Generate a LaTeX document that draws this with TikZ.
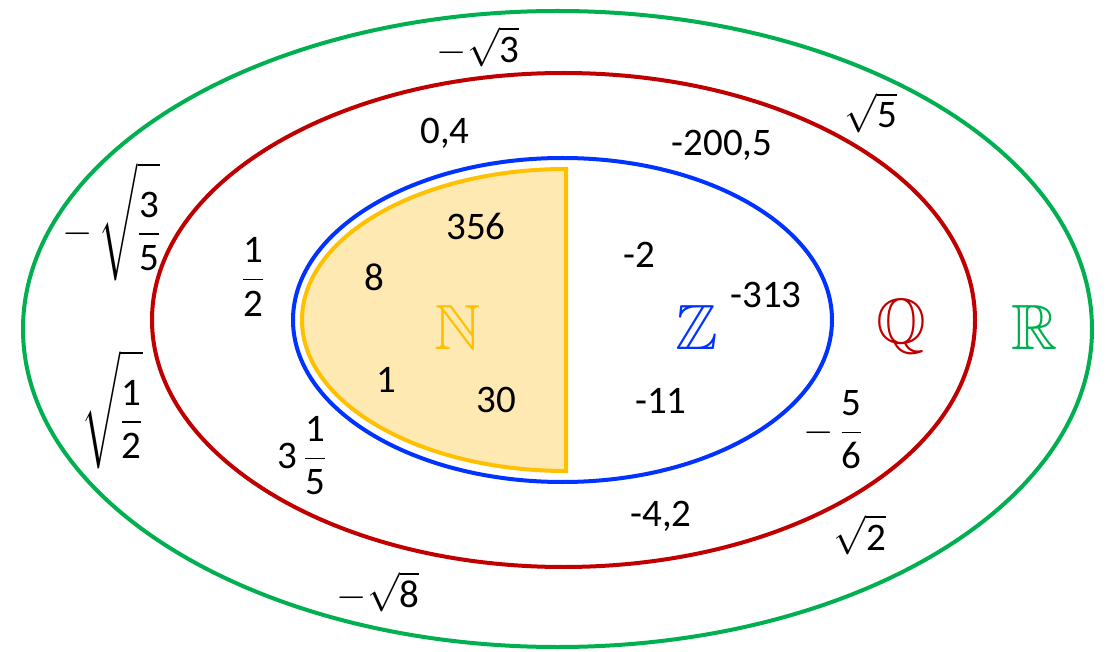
\RequirePackage{fix-cm}
\documentclass[tikz,border=0pt]{standalone}
\usepackage{amsmath,amssymb}
\usepackage{fontspec}
\setmainfont{Carlito}
\definecolor{cgreen}{RGB}{0,176,80}
\definecolor{cred}{RGB}{192,0,0}
\definecolor{cblue}{RGB}{0,51,255}
\definecolor{cyel}{RGB}{255,192,0}
\definecolor{cyfill}{RGB}{255,233,179}
\newcommand{\bigstrut}{\rule[-36pt]{0pt}{110pt}}
\begin{document}
\begin{tikzpicture}[x=1pt,y=-1pt,line width=4pt,
  num/.style={font=\fontsize{39}{47}\selectfont,inner sep=0pt},
  setname/.style={font=\fontsize{64}{70}\selectfont,inner sep=0pt}]
\useasboundingbox (0,0) rectangle (1106,652);
\fill[white] (0,0) rectangle (1106,652);
\draw[cgreen] (557.5,329) ellipse [x radius=534.5, y radius=318];
\draw[cred] (563.5,320) ellipse [x radius=411.5, y radius=247];
\draw[cblue] (562.5,320) ellipse [x radius=269.5, y radius=162];
\draw[cyel,fill=cyfill] (566,169) arc[start angle=270, end angle=90, x radius=264, y radius=151] -- cycle;
% set names
\node[setname,text=cyel] (N) at (458,327) {$\mathbb{N}$};
\node[setname,text=cblue] (Z) at (697,327) {$\mathbb{Z}$};
\node[setname,text=cred] (Q) at (901,327) {$\mathbb{Q}$};
\node[setname,text=cgreen] (R) at (1035,327) {$\mathbb{R}$};
% naturals
\node[num] (n356) at (476,226) {356};
\node[num] (n8) at (374,277) {8};
\node[num] (n1) at (386,380) {1};
\node[num] (n30) at (496,400) {30};
% integers
\node[num] (zm2) at (639,255) {-2};
\node[num] (zm313) at (766,295) {-313};
\node[num] (zm11) at (661,401) {-11};
% rationals
\node[num] (q04) at (445,133) {0,4};
\node[num] (q2005) at (722,145) {-200,5};
\node[num] (qhalf) at (253,277) {$\dfrac{\text{1}}{\text{2}}$};
\node[num] (q315) at (302,456) {$\text{3}\,\dfrac{\text{1}}{\text{5}}$};
\node[num] (q56) at (833,430) {$-\,\dfrac{\text{5}}{\text{6}}$};
\node[num] (q42) at (661,516) {-4,2};
% reals
\node[num] (r3) at (478,47) {$-\sqrt{\text{3}}$};
\node[num] (r5) at (871,113) {$\sqrt{\text{5}}$};
\node[num] (r35) at (111,222) {$-\,\sqrt{\bigstrut\dfrac{\text{3}}{\text{5}}}$};
\node[num] (r12) at (112,410) {$\sqrt{\bigstrut\dfrac{\text{1}}{\text{2}}}$};
\node[num] (r2) at (860,535) {$\sqrt{\text{2}}$};
\node[num] (r8) at (378,592) {$-\sqrt{\text{8}}$};
\end{tikzpicture}
\end{document}
